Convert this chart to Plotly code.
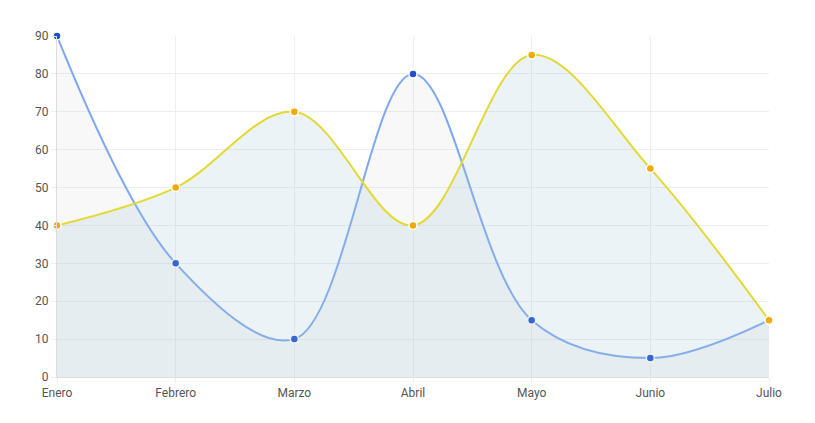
import plotly.graph_objects as go

months = ["Enero", "Febrero", "Marzo", "Abril", "Mayo", "Junio", "Julio"]
serie_azul = [90, 30, 10, 80, 15, 5, 15]
serie_amarilla = [40, 50, 70, 40, 85, 55, 15]

fig = go.Figure()

fig.add_trace(go.Scatter(
    x=months, y=serie_azul, mode="lines+markers", cliponaxis=False,
    line=dict(color="#7fa8f2", width=2, shape="spline", smoothing=1),
    marker=dict(color="#1d4fd0", size=8, line=dict(color="white", width=1.5)),
    fill="tozeroy", fillcolor="rgba(200,200,200,0.13)", showlegend=False,
))
fig.add_trace(go.Scatter(
    x=months, y=serie_amarilla, mode="lines+markers", cliponaxis=False,
    line=dict(color="#e3d935", width=2, shape="spline", smoothing=1),
    marker=dict(color="#f2a900", size=8, line=dict(color="white", width=1.5)),
    fill="tozeroy", fillcolor="rgba(160,195,210,0.2)", showlegend=False,
))

fig.update_layout(
    width=815, height=423,
    margin=dict(l=49, r=54, t=28, b=54),
    plot_bgcolor="white", paper_bgcolor="white",
    font=dict(family="Roboto, Arial", size=12, color="#555"),
    xaxis=dict(showgrid=True, gridcolor="#eeeeee", showline=True, linecolor="#dddddd",
               zeroline=False, ticks="outside", ticklen=5, tickcolor="#eeeeee",
               range=[0, 6]),
    yaxis=dict(range=[0, 90], dtick=10, showgrid=True, gridcolor="#eeeeee",
               showline=True, linecolor="#dddddd", zeroline=False,
               ticks="outside", ticklen=5, tickcolor="#eeeeee"),
)

fig.write_html("out.html")
